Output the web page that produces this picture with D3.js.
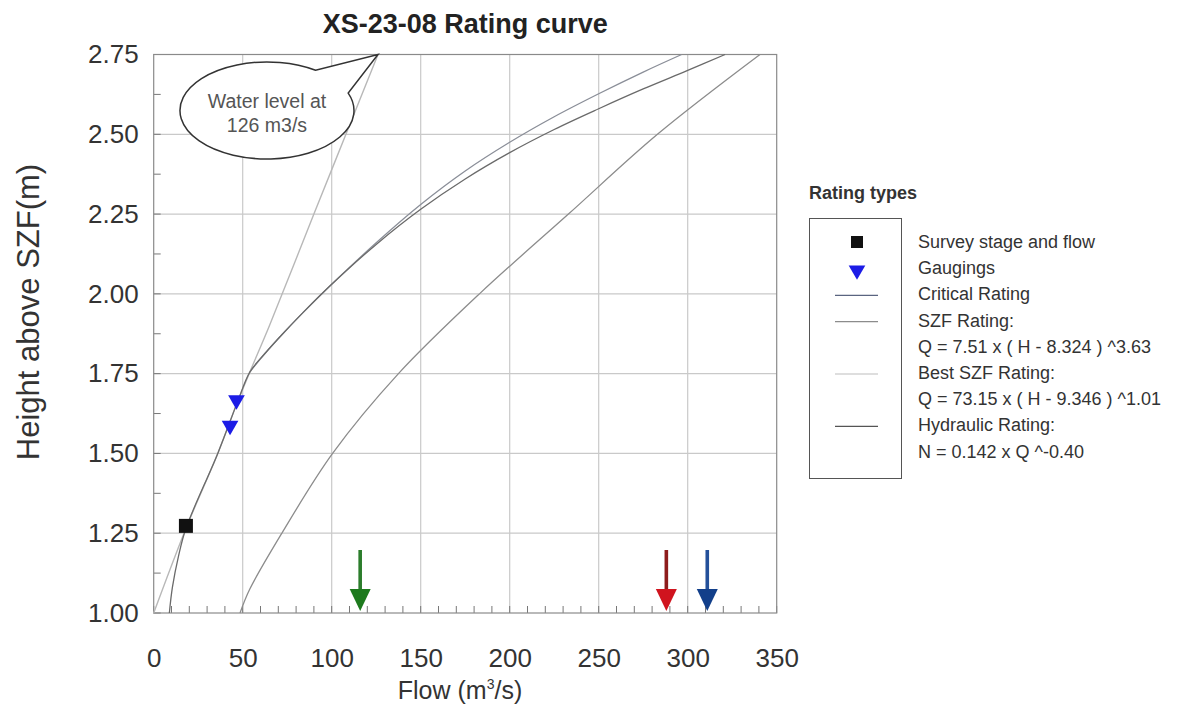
<!DOCTYPE html>
<html>
<head>
<meta charset="utf-8">
<script src="https://cdn.jsdelivr.net/npm/d3@7"></script>
<style>
  html, body { margin: 0; padding: 0; background: #fff; }
  svg { display: block; font-family: "Liberation Sans", Arial, Helvetica, sans-serif; }
</style>
</head>
<body>
<svg id="chart" width="1183" height="711"></svg>
<script>
// ---- data -------------------------------------------------------------
const flowTicks = [0, 50, 100, 150, 200, 250, 300, 350];
const heightTicks = [1.00, 1.25, 1.50, 1.75, 2.00, 2.25, 2.50, 2.75];

const surveyPoint = [[18.1, 1.273]];
const gaugings = [[46.5, 1.667], [42.9, 1.587]];

// [flow m3/s, height above SZF m]
const bestSzfRating = [[0, 1.0], [18.1, 1.265], [36, 1.5], [47, 1.66], [54, 1.755], [65, 1.9], [90, 2.25],
  [108, 2.5], [126, 2.75]];
const hydraulicRating = [[8.8, 1.0], [10.5, 1.08], [14, 1.18], [18.1, 1.265], [36, 1.5], [47, 1.66], [54, 1.755],
  [62, 1.81], [72, 1.872], [84, 1.942], [100, 2.03], [125, 2.155], [150, 2.265], [175, 2.36], [200, 2.4425],
  [225, 2.515], [250, 2.58], [275, 2.642], [300, 2.70], [321, 2.75]];
const criticalRating = [[54, 1.755], [62, 1.81], [72, 1.872], [84, 1.942], [100, 2.03], [125, 2.16], [150, 2.28],
  [175, 2.385], [200, 2.475], [225, 2.555], [250, 2.627], [275, 2.695], [296.6, 2.75]];
const szfRating = [[48.5, 1.0], [54, 1.075], [72, 1.25], [100.5, 1.5], [137.5, 1.75], [183, 2.0], [233, 2.25],
  [283, 2.5], [340.6, 2.75]];

const eventFlows = [116, 288, 311];
const eventShaftColors = ["#2c7d2c", "#8e1c1c", "#24509a"];
const eventHeadColors = ["#1d7a1d", "#d0141e", "#123f8a"];

const legendLabels = [
  "Survey stage and flow", "Gaugings", "Critical Rating", "SZF Rating:",
  "Q = 7.51 x ( H - 8.324 ) ^3.63", "Best SZF Rating:", "Q = 73.15 x ( H - 9.346 ) ^1.01",
  "Hydraulic Rating:", "N = 0.142 x Q ^-0.40"
];

// ---- layout -----------------------------------------------------------
const svg = d3.select("#chart");
const x = d3.scaleLinear().domain([0, 350]).range([153.7, 776.7]);
const y = d3.scaleLinear().domain([1, 2.75]).range([613, 54.5]);
const [x0, x1] = x.range();
const [y0, y1] = y.range();

// gridlines
const grid = svg.append("g").attr("stroke", "#c9c9c9").attr("stroke-width", 1.2);
grid.selectAll("line.v").data(flowTicks.filter(d => d > 0 && d < 350)).join("line")
  .attr("x1", d => x(d)).attr("x2", d => x(d)).attr("y1", y0).attr("y2", y1);
grid.selectAll("line.h").data(heightTicks.filter(d => d > 1 && d < 2.75)).join("line")
  .attr("x1", x0).attr("x2", x1).attr("y1", d => y(d)).attr("y2", d => y(d));

// minor ticks inside the frame
const ticks = svg.append("g").attr("stroke", "#777").attr("stroke-width", 1);
ticks.selectAll("line.xt").data(d3.range(0, 351, 10)).join("line")
  .attr("x1", d => x(d)).attr("x2", d => x(d)).attr("y1", y0).attr("y2", y0 - 7);
ticks.selectAll("line.yt").data(d3.range(0, 15).map(i => 1 + i * 0.125)).join("line")
  .attr("x1", x0).attr("x2", x0 + 7).attr("y1", d => y(d)).attr("y2", d => y(d));

// frame
svg.append("rect").attr("x", x0).attr("y", y1).attr("width", x1 - x0).attr("height", y0 - y1)
  .attr("fill", "none").attr("stroke", "#8a8a8a").attr("stroke-width", 1.2);

// axes labels via d3 axes
const xAxis = svg.append("g").attr("transform", `translate(0,${y0})`)
  .call(d3.axisBottom(x).tickValues(flowTicks).tickFormat(d3.format("d")).tickSize(0).tickPadding(36));
const yAxis = svg.append("g").attr("transform", `translate(${x0},0)`)
  .call(d3.axisLeft(y).tickValues(heightTicks).tickFormat(d3.format(".2f")).tickSize(0).tickPadding(15));
[xAxis, yAxis].forEach(g => {
  g.select(".domain").remove();
  g.selectAll("text").attr("font-size", 26).attr("fill", "#333")
    .attr("font-family", "'Liberation Sans', Arial, sans-serif");
});

// rating curves
const line = d3.line().x(d => x(d[0])).y(d => y(d[1])).curve(d3.curveCatmullRom.alpha(0.5));
const curves = svg.append("g").attr("fill", "none").attr("stroke-linejoin", "round");
curves.append("path").datum(szfRating).attr("d", line).attr("stroke", "#8c8c8c").attr("stroke-width", 1.3);
curves.append("path").datum(criticalRating).attr("d", line).attr("stroke", "#8a8e98").attr("stroke-width", 1.3);
curves.append("path").datum(bestSzfRating).attr("d", line).attr("stroke", "#b8b8b8").attr("stroke-width", 1.4);
curves.append("path").datum(hydraulicRating).attr("d", line).attr("stroke", "#6a6a6a").attr("stroke-width", 1.3);

// survey stage point
svg.selectAll("rect.survey").data(surveyPoint).join("rect")
  .attr("x", d => x(d[0]) - 7).attr("y", d => y(d[1]) - 7).attr("width", 14).attr("height", 14)
  .attr("fill", "#111");

// gaugings (down triangles)
const tri = d3.symbol().type(d3.symbolTriangle).size(120);
svg.selectAll("path.gauge").data(gaugings).join("path")
  .attr("d", tri).attr("transform", d => `translate(${x(d[0])},${y(d[1])}) rotate(180)`)
  .attr("fill", "#1c1ce6");

// event arrows standing on the flow axis
const arrows = svg.append("g").selectAll("g").data(eventFlows).join("g")
  .attr("transform", d => `translate(${x(d)},${y0})`);
arrows.append("rect").attr("x", -1.8).attr("y", -63).attr("width", 3.6).attr("height", 42)
  .attr("fill", (d, i) => eventShaftColors[i]);
arrows.append("path").attr("d", "M-10.5,-24 L10.5,-24 L0,-2 Z")
  .attr("fill", (d, i) => eventHeadColors[i]);

// speech bubble pointing at the top of the best SZF rating
const tipX = x(126), tipY = y(2.75);
const cx = tipX - 111, cy = tipY + 56, rx = 87, ry = 48.5;
const pt = a => [cx + rx * Math.cos(a * Math.PI / 180), cy + ry * Math.sin(a * Math.PI / 180)];
const p1 = pt(-56), p2 = pt(-21);
svg.append("path")
  .attr("d", `M${p1[0]},${p1[1]} A${rx},${ry} 0 1 0 ${p2[0]},${p2[1]} L${tipX},${tipY} Z`)
  .attr("fill", "#fff").attr("stroke", "#333").attr("stroke-width", 1.5).attr("stroke-linejoin", "miter");
const bubbleText = svg.append("text").attr("text-anchor", "middle").attr("font-size", 19.5).attr("fill", "#555");
bubbleText.append("tspan").attr("x", cx).attr("y", cy - 3).text("Water level at");
bubbleText.append("tspan").attr("x", cx).attr("y", cy + 21).text("126 m3/s");

// title and axis titles
svg.append("text").attr("x", (x0 + x1) / 2).attr("y", 33).attr("text-anchor", "middle")
  .attr("font-size", 27).attr("font-weight", "bold").attr("fill", "#222").text("XS-23-08 Rating curve");

const xt = svg.append("text").attr("x", 460).attr("y", 699).attr("text-anchor", "middle")
  .attr("font-size", 25).attr("fill", "#333");
xt.append("tspan").text("Flow (m");
xt.append("tspan").attr("font-size", 14).attr("dy", -10).text("3");
xt.append("tspan").attr("dy", 10).text("/s)");

svg.append("text").attr("transform", "translate(39,312) rotate(-90)").attr("text-anchor", "middle")
  .attr("font-size", 31).attr("fill", "#333").text("Height above SZF(m)");

// legend
svg.append("text").attr("x", 809).attr("y", 199).attr("font-size", 18).attr("font-weight", "bold")
  .attr("fill", "#333").text("Rating types");
svg.append("rect").attr("x", 809.5).attr("y", 218.5).attr("width", 92).attr("height", 260)
  .attr("fill", "none").attr("stroke", "#555").attr("stroke-width", 1);

const rowY = i => 242 + i * 26.2;
svg.append("g").selectAll("text").data(legendLabels).join("text")
  .attr("x", 918).attr("y", (d, i) => rowY(i) + 6).attr("font-size", 18).attr("fill", "#333").text(d => d);

const lx = 857;
svg.append("rect").attr("x", lx - 6).attr("y", rowY(0) - 6).attr("width", 12).attr("height", 12).attr("fill", "#111");
svg.append("path").attr("d", tri).attr("transform", `translate(${lx},${rowY(1) + 2}) rotate(180)`).attr("fill", "#1c1ce6");
const legendLines = [[2, "#5a6480"], [3, "#8c8c8c"], [5, "#bdbdbd"], [7, "#555"]];
svg.append("g").selectAll("line").data(legendLines).join("line")
  .attr("x1", 835).attr("x2", 878).attr("y1", d => rowY(d[0]) + 1).attr("y2", d => rowY(d[0]) + 1)
  .attr("stroke", d => d[1]).attr("stroke-width", 1.2);
</script>
</body>
</html>
